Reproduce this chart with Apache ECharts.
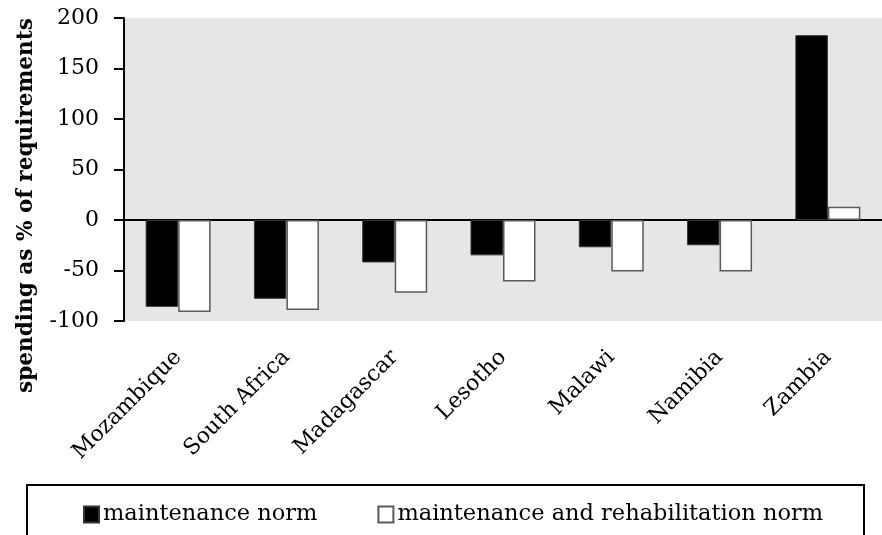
<!DOCTYPE html>
<html>
<head>
<meta charset="utf-8">
<script src="https://cdn.jsdelivr.net/npm/echarts@6/dist/echarts.min.js"></script>
<style>
  html, body { margin: 0; padding: 0; background: #fff; }
  #chart { width: 882px; height: 535px; }
</style>
</head>
<body>
<div id="chart"></div>
<script>
// countries on the x axis
var countries = ['Mozambique', 'South Africa', 'Madagascar', 'Lesotho', 'Malawi', 'Namibia', 'Zambia'];
// spending as % of requirements
var maintenanceNorm = [-86, -78, -42, -35, -27, -25, 183];
var rehabNorm = [-91, -89, -72, -61, -51, -51, 13];
var yTicks = { min: -100, max: 200, step: 50 };

var serif = 'DejaVu Serif';
var chart = echarts.init(document.getElementById('chart'));

var option = {
  animation: false,
  textStyle: { fontFamily: serif },
  grid: {
    left: 124, top: 18, width: 766, bottom: 214,
    show: true, backgroundColor: '#e6e6e6', borderWidth: 0
  },
  legend: {
    left: 83, top: 503, padding: 0,
    itemWidth: 15, itemHeight: 16, itemGap: 60,
    icon: 'rect',
    textStyle: { fontFamily: serif, fontSize: 22.5, color: '#000', padding: [0, 0, 0, -1] },
    data: ['maintenance norm', 'maintenance and rehabilitation norm']
  },
  graphic: [{
    type: 'rect',
    shape: { x: 27, y: 485, width: 837, height: 70 },
    style: { fill: 'none', stroke: '#000', lineWidth: 2 }
  }],
  xAxis: [{
    type: 'category',
    data: countries,
    axisLine: { onZero: true, lineStyle: { color: '#000', width: 2 } },
    axisTick: { length: 8, lineStyle: { color: '#000', width: 2 } },
    axisLabel: { show: false }
  }, {
    type: 'category',
    data: countries,
    position: 'bottom',
    axisLine: { show: false, onZero: false },
    axisTick: { show: false },
    axisLabel: { rotate: 45, margin: 33, fontFamily: serif, fontSize: 22, color: '#000' }
  }],
  yAxis: {
    type: 'value',
    min: yTicks.min, max: yTicks.max, interval: yTicks.step,
    name: 'spending as % of requirements',
    nameLocation: 'middle',
    nameGap: 87,
    nameTextStyle: { fontFamily: serif, fontWeight: 'bold', fontSize: 21.6, color: '#000', padding: [0, 72, 0, 0] },
    axisLine: { show: true, lineStyle: { color: '#000', width: 2 } },
    axisTick: { show: true, length: 10, lineStyle: { color: '#000', width: 2 } },
    axisLabel: { margin: 25, fontFamily: serif, fontSize: 22, color: '#000' },
    splitLine: { show: false }
  },
  series: [{
    name: 'maintenance norm',
    type: 'bar',
    xAxisIndex: 0,
    data: maintenanceNorm,
    barGap: '0%',
    barCategoryGap: '40%',
    itemStyle: { color: '#000', borderColor: '#333', borderWidth: 1 }
  }, {
    name: 'maintenance and rehabilitation norm',
    type: 'bar',
    xAxisIndex: 0,
    data: rehabNorm,
    itemStyle: { color: '#fff', borderColor: '#5a5a5a', borderWidth: 1.5 }
  }]
};

chart.setOption(option);
</script>
</body>
</html>
